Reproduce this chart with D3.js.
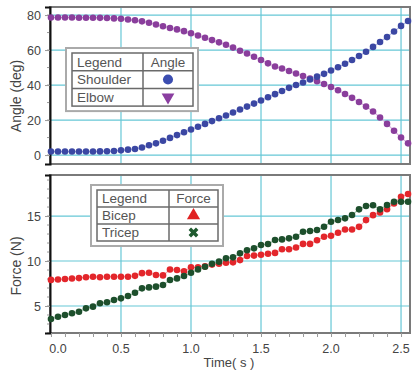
<!DOCTYPE html>
<html lang="en">
<head>
<meta charset="UTF-8">
<title>Angle and Force</title>
<style>
    body { margin: 0; background: #fff; }
    svg { display: block; font-family: "Liberation Sans", Arial, sans-serif; }
</style>
</head>
<body>
<div id="graphic"></div>
<script src="https://cdn.jsdelivr.net/npm/d3@7"></script>
<script>
// time in seconds, one sample every 0.05 s
var time = [0.00,0.05,0.10,0.15,0.20,0.25,0.30,0.35,0.40,0.45,0.50,0.55,0.60,0.65,0.70,0.75,0.80,0.85,0.90,0.95,
            1.00,1.05,1.10,1.15,1.20,1.25,1.30,1.35,1.40,1.45,1.50,1.55,1.60,1.65,1.70,1.75,1.80,1.85,1.90,1.95,
            2.00,2.05,2.10,2.15,2.20,2.25,2.30,2.35,2.40,2.45,2.50,2.55];

var shoulder = [2.0,2.0,2.0,2.0,2.0,2.0,2.0,2.1,2.2,2.3,2.7,3.1,3.5,4.3,5.6,6.7,8.2,9.8,11.4,13.0,
                14.6,16.2,17.8,19.4,21.0,22.6,24.3,26.0,27.7,29.4,31.2,33.0,34.8,36.6,38.4,40.0,41.5,43.2,44.8,46.4,
                48.3,50.2,52.2,54.3,56.6,59.0,61.8,64.6,67.4,70.6,73.8,76.6];
var elbow = [78.6,78.6,78.6,78.6,78.5,78.5,78.5,78.4,78.3,78.1,77.9,77.5,77.0,76.4,75.6,74.6,73.6,72.6,71.8,70.8,
             69.6,68.3,67.0,65.7,64.4,63.0,61.4,59.6,58.0,56.2,54.3,52.4,50.6,49.5,48.0,46.6,45.2,43.7,42.2,40.6,
             38.9,37.0,34.9,32.7,30.3,27.7,24.9,21.5,17.8,13.9,10.0,6.7];

var bicep = [7.9,7.95,8.0,8.05,8.1,8.2,8.25,8.2,8.25,8.25,8.25,8.25,8.35,8.65,8.7,8.45,8.4,9.05,9.0,8.85,
             9.3,9.3,9.4,9.6,9.7,9.8,9.85,10.1,10.55,10.6,10.7,10.8,10.9,11.3,11.3,11.5,11.9,11.9,12.3,12.7,
             12.8,13.15,13.5,13.5,13.8,14.55,15.1,15.4,15.75,16.4,17.15,17.45];
var tricep = [3.56,3.81,4.0,4.19,4.37,4.74,4.93,5.3,5.41,5.67,5.85,6.11,6.48,6.96,7.07,7.15,7.33,7.89,8.07,8.33,
              8.7,9.07,9.37,9.7,9.93,10.3,10.41,10.85,11.2,11.41,11.78,11.89,12.33,12.4,12.52,12.7,13.26,13.33,13.44,13.81,
              14.37,14.56,14.74,15.11,15.74,16.11,16.19,15.74,16.22,16.59,16.59,16.59];

var timeTicks = [0, 0.5, 1.0, 1.5, 2.0, 2.5];
var angleTicks = [0, 20, 40, 60, 80];
var forceTicks = [5, 10, 15];

var width = 417, height = 375;
var gridColor = '#66c7d6';

var svg = d3.select('#graphic').append('svg')
    .attr('width', width)
    .attr('height', height);

var x = d3.scaleLinear().domain([-0.007, 2.564]).range([50, 410]);
var yAngle = d3.scaleLinear().domain([-5.1, 84.6]).range([164, 7]);
var yForce = d3.scaleLinear().domain([2, 19.56]).range([333, 175]);

function drawPanel(y, ticks, minorStep, label, labelY) {
    var g = svg.append('g');
    var top = y.range()[1], bottom = y.range()[0];
    var left = x.range()[0], right = x.range()[1];

    // grid lines
    g.selectAll('.hgrid').data(ticks).join('line')
        .attr('x1', left).attr('x2', right)
        .attr('y1', function(d) { return y(d); }).attr('y2', function(d) { return y(d); })
        .attr('stroke', gridColor).attr('stroke-width', 1.2);
    g.selectAll('.vgrid').data(timeTicks.slice(1)).join('line')
        .attr('x1', function(d) { return x(d); }).attr('x2', function(d) { return x(d); })
        .attr('y1', top).attr('y2', bottom)
        .attr('stroke', gridColor).attr('stroke-width', 1.2);

    // frame
    g.append('rect')
        .attr('x', left).attr('y', top)
        .attr('width', right - left).attr('height', bottom - top)
        .attr('fill', 'none').attr('stroke', '#7a7a7a').attr('stroke-width', 2);

    // minor ticks on left axis
    var minors = d3.range(Math.ceil(y.domain()[0] / minorStep) * minorStep, y.domain()[1], minorStep);
    g.selectAll('.minor').data(minors).join('line')
        .attr('x1', left - 3).attr('x2', left)
        .attr('y1', function(d) { return y(d); }).attr('y2', function(d) { return y(d); })
        .attr('stroke', '#999').attr('stroke-width', 1);

    var axis = g.append('g')
        .attr('transform', 'translate(' + left + ',0)')
        .call(d3.axisLeft(y).tickValues(ticks).tickSize(5).tickPadding(4).tickFormat(d3.format('d')));
    axis.select('.domain').attr('stroke', '#111').attr('stroke-width', 2);
    axis.selectAll('.tick line').attr('stroke', '#999');
    axis.selectAll('.tick text').attr('fill', '#444').style('font-size', '12.5px');

    g.append('text')
        .attr('transform', 'translate(21,' + labelY + ') rotate(-90)')
        .attr('text-anchor', 'middle')
        .attr('fill', '#444')
        .style('font-size', '14px')
        .text(label);
    return g;
}

function drawSeries(g, y, values, color, lineColor) {
    var pts = time.map(function(t, i) { return [t, values[i]]; });
    g.append('path')
        .datum(pts)
        .attr('fill', 'none')
        .attr('stroke', lineColor)
        .attr('stroke-width', 1.2)
        .attr('d', d3.line().x(function(d) { return x(d[0]); }).y(function(d) { return y(d[1]); }));
    g.selectAll(null).data(pts).join('circle')
        .attr('cx', function(d) { return x(d[0]); })
        .attr('cy', function(d) { return y(d[1]); })
        .attr('r', 3.3)
        .attr('fill', color);
}

var topPanel = drawPanel(yAngle, angleTicks, 10, 'Angle (deg)', 96);
drawSeries(topPanel, yAngle, elbow, '#8a3e9c', '#d9b3e0');
drawSeries(topPanel, yAngle, shoulder, '#3b47a3', '#b5bbe6');

var botPanel = drawPanel(yForce, forceTicks, 1, 'Force (N)', 266);
drawSeries(botPanel, yForce, bicep, '#e3262b', '#f3a9ab');
drawSeries(botPanel, yForce, tricep, '#1d4f2c', '#9fc3a8');

// x axis on the lower panel
var xAxis = svg.append('g')
    .attr('transform', 'translate(0,333)')
    .call(d3.axisBottom(x).tickValues(d3.range(0, 2.56, 0.1)).tickSize(4).tickFormat(''));
xAxis.select('.domain').remove();
xAxis.selectAll('.tick line').attr('stroke', '#999');

svg.selectAll('.xlab').data(timeTicks).join('text')
    .attr('x', function(d, i) { return i === 0 ? x(d) + 7 : x(d); })
    .attr('y', 353)
    .attr('text-anchor', 'middle')
    .attr('fill', '#444')
    .style('font-size', '12.5px')
    .text(function(d) { return d.toFixed(1); });

svg.append('text')
    .attr('x', 229).attr('y', 367)
    .attr('text-anchor', 'middle')
    .attr('fill', '#444')
    .style('font-size', '13px')
    .text('Time( s )');

// legend tables
function drawLegend(ox, oy, colX, rowH, rows, header) {
    var g = svg.append('g');
    var tw = 121, th = rowH * 3;
    g.append('rect')
        .attr('x', ox - 6).attr('y', oy - 5)
        .attr('width', tw + 11).attr('height', th + 10)
        .attr('fill', '#fff').attr('stroke', '#aaa').attr('stroke-width', 2);
    g.append('rect')
        .attr('x', ox).attr('y', oy)
        .attr('width', tw).attr('height', th)
        .attr('fill', '#fff').attr('stroke', '#6a6a6a').attr('stroke-width', 1.5);
    [1, 2].forEach(function(r) {
        g.append('line').attr('x1', ox).attr('x2', ox + tw)
            .attr('y1', oy + r * rowH).attr('y2', oy + r * rowH)
            .attr('stroke', '#6a6a6a').attr('stroke-width', 1.5);
    });
    g.append('line').attr('x1', colX).attr('x2', colX)
        .attr('y1', oy).attr('y2', oy + th)
        .attr('stroke', '#6a6a6a').attr('stroke-width', 1.5);

    var cx = (colX + ox + tw) / 2;
    var labels = ['Legend'].concat(rows.map(function(r) { return r.name; }));
    g.selectAll('.lt').data(labels).join('text')
        .attr('x', ox + 5)
        .attr('y', function(d, i) { return oy + i * rowH + rowH - 4; })
        .attr('fill', '#555')
        .style('font-size', '13.5px')
        .text(function(d) { return d; });
    g.append('text')
        .attr('x', cx).attr('y', oy + rowH - 4)
        .attr('text-anchor', 'middle')
        .attr('fill', '#555')
        .style('font-size', '13.5px')
        .text(header);
    rows.forEach(function(r, i) {
        var cy = oy + (i + 1.5) * rowH;
        g.append('path')
            .attr('transform', 'translate(' + cx + ',' + cy + ')' + (r.rotate ? ' rotate(' + r.rotate + ')' : ''))
            .attr('d', d3.symbol().type(r.symbol).size(r.size)())
            .attr('fill', r.color);
    });
}

drawLegend(72, 53, 143, 17.7, [
    { name: 'Shoulder', color: '#3b4db0', symbol: d3.symbolCircle, size: 80 },
    { name: 'Elbow', color: '#8a3ea0', symbol: d3.symbolTriangle, size: 70, rotate: 180 }
], 'Angle');

drawLegend(97, 190, 169, 17, [
    { name: 'Bicep', color: '#e02222', symbol: d3.symbolTriangle, size: 75 },
    { name: 'Tricep', color: '#1f5a2f', symbol: d3.symbolCross, size: 60, rotate: 45 }
], 'Force');
</script>
</body>
</html>
